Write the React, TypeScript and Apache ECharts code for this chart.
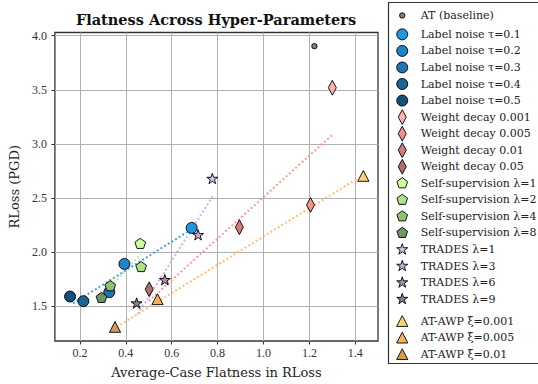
import React, { useEffect, useRef } from "react";
import * as echarts from "echarts";

// ---------- data ----------
const xTicks = [0.2, 0.4, 0.6, 0.8, 1.0, 1.2, 1.4];
const yTicks = [1.5, 2.0, 2.5, 3.0, 3.5, 4.0];

const baselineNames = ["AT (baseline)"];
const baselinePoints = [[1.222, 3.904]];

const labelNoiseNames = ["Label noise τ=0.1", "Label noise τ=0.2", "Label noise τ=0.3", "Label noise τ=0.4", "Label noise τ=0.5"];
const labelNoisePoints = [[0.687, 2.225], [0.394, 1.892], [0.328, 1.631], [0.215, 1.548], [0.157, 1.591]];

const weightDecayNames = ["Weight decay 0.001", "Weight decay 0.005", "Weight decay 0.01", "Weight decay 0.05"];
const weightDecayPoints = [[1.300, 3.520], [1.205, 2.437], [0.895, 2.231], [0.502, 1.658]];

const selfSupNames = ["Self-supervision λ=1", "Self-supervision λ=2", "Self-supervision λ=4", "Self-supervision λ=8"];
const selfSupPoints = [[0.463, 2.077], [0.467, 1.863], [0.332, 1.686], [0.294, 1.578]];

const tradesNames = ["TRADES λ=1", "TRADES λ=3", "TRADES λ=6", "TRADES λ=9"];
const tradesPoints = [[0.777, 2.676], [0.715, 2.156], [0.570, 1.741], [0.447, 1.525]];

const awpNames = ["AT-AWP ξ=0.001", "AT-AWP ξ=0.005", "AT-AWP ξ=0.01"];
const awpPoints = [[1.435, 2.705], [0.538, 1.566], [0.353, 1.310]];

// dotted trend lines (start, end)
const labelNoiseTrend = [[0.170, 1.527], [0.670, 2.190]];
const selfSupTrend = [[0.310, 1.630], [0.466, 1.985]];
const tradesTrend = [[0.452, 1.430], [0.779, 2.516]];
const weightDecayTrend = [[0.500, 1.550], [1.298, 3.081]];
const awpTrend = [[0.376, 1.330], [1.413, 2.685]];

// ---------- styles ----------
const baselineColors = ["#808080"];
const labelNoiseColors = ["#2196e0", "#1f84c8", "#1d74ae", "#1a6494", "#165078"];
const weightDecayColors = ["#ffb0b0", "#f09090", "#d47c7c", "#b46c6c"];
const selfSupColors = ["#ccff99", "#b0e08c", "#90bf72", "#6e9660"];
const tradesColors = ["#dcc4ec", "#c4acd8", "#a690b0", "#8c7c9c"];
const awpColors = ["#ffd27a", "#f7b25e", "#d69a52"];

const FRAME = 16;
const C = FRAME / 2;
const pad = `M0 0M${FRAME} ${FRAME}`;
const f = (n: number) => n.toFixed(2);
function circlePath(r: number) {
  return `path://${pad}M${f(C + r)} ${C}A${r} ${r} 0 1 1 ${f(C - r)} ${C}A${r} ${r} 0 1 1 ${f(C + r)} ${C}Z`;
}
function polyPath(pts: number[][]) {
  return `path://${pad}M` + pts.map((p) => `${f(p[0])} ${f(p[1])}`).join("L") + "Z";
}
function regularPoly(n: number, R: number) {
  const pts: number[][] = [];
  for (let k = 0; k < n; k++) {
    const a = (-90 + (360 / n) * k) * (Math.PI / 180);
    pts.push([C + R * Math.cos(a), C + R * Math.sin(a)]);
  }
  return polyPath(pts);
}
function starPath(R: number) {
  const r = R * 0.382;
  const pts: number[][] = [];
  for (let k = 0; k < 10; k++) {
    const a = (-90 + 36 * k) * (Math.PI / 180);
    const rr = k % 2 === 0 ? R : r;
    pts.push([C + rr * Math.cos(a), C + rr * Math.sin(a)]);
  }
  return polyPath(pts);
}
const SYM_BASE = circlePath(2.7);
const SYM_CIRCLE = circlePath(5.5);
const SYM_DIAMOND = polyPath([[8, 0.6], [12, 8], [8, 15.4], [4, 8]]);
const SYM_PENT = regularPoly(5, 5.6);
const SYM_STAR = starPath(5.8);
const SYM_TRI = polyPath([[8, 2.6], [13.6, 13.4], [2.4, 13.4]]);

const SERIF = "DejaVu Serif";
const TICKFONT = "Liberation Serif";

function scatterGroup(names: string[], pts: number[][], colors: string[], symbol: string) {
  return names.map((name, i) => ({
    type: "scatter",
    name,
    data: [pts[i]],
    symbol,
    symbolSize: FRAME,
    z: 3,
    itemStyle: { color: colors[i], borderColor: "#000", borderWidth: 0.9, opacity: 1 },
  }));
}
function trend(pts: number[][], color: string) {
  return {
    type: "line",
    data: pts,
    showSymbol: false,
    symbol: "none",
    silent: true,
    z: 2,
    lineStyle: { color, width: 2, type: [2, 2.3], cap: "butt", opacity: 0.9 },
  };
}

export default function App() {
  const ref = useRef<HTMLDivElement>(null);
  useEffect(() => {
    if (!ref.current) return;
    const chart = echarts.init(ref.current, undefined, { renderer: "svg" });
    const legendCommon = {
      orient: "vertical",
      left: 393.8,
      itemWidth: 27,
      itemHeight: FRAME,
      padding: 0,
      selectedMode: false,
      textStyle: { fontFamily: SERIF, fontSize: 11, color: "#222" },
      itemStyle: { borderWidth: 0.9, borderColor: "#000" },
    };
    chart.setOption({
      animation: false,
      backgroundColor: "#fff",
      title: {
        text: "Flatness Across Hyper-Parameters",
        left: 216,
        top: 11.5,
        padding: 0,
        textAlign: "center",
        textStyle: { fontFamily: SERIF, fontWeight: "bold", fontSize: 14.5, color: "#111" },
      },
      grid: {
        left: 54,
        right: 160,
        top: 32.5,
        bottom: 36,
        show: true,
        borderColor: "#333",
        borderWidth: 1.3,
        backgroundColor: "transparent",
      },
      xAxis: {
        type: "value",
        min: 0.091,
        max: 1.499,
        name: "Average-Case Flatness in RLoss",
        nameLocation: "middle",
        nameGap: 25,
        nameTextStyle: { fontFamily: SERIF, fontSize: 13, color: "#222" },
        axisLine: { show: false },
        axisTick: { show: true, length: 3.5, lineStyle: { color: "#333" }, customValues: xTicks },
        axisLabel: {
          customValues: xTicks,
          formatter: (v: number) => v.toFixed(1),
          fontFamily: TICKFONT,
          fontSize: 12,
          color: "#333",
          margin: 6,
        },
        splitLine: { show: true, lineStyle: { color: "#b0b0b0", width: 1 } },
      },
      yAxis: {
        type: "value",
        min: 1.18,
        max: 4.03,
        name: "RLoss (PGD)",
        nameLocation: "middle",
        nameGap: 29,
        nameTextStyle: { fontFamily: SERIF, fontSize: 13, color: "#222" },
        axisLine: { show: false },
        axisTick: { show: true, length: 3.5, lineStyle: { color: "#333" }, customValues: yTicks },
        axisLabel: {
          customValues: yTicks,
          formatter: (v: number) => v.toFixed(1),
          fontFamily: TICKFONT,
          fontSize: 12,
          color: "#333",
          margin: 8,
        },
        splitLine: { show: true, lineStyle: { color: "#b0b0b0", width: 1 } },
      },
      legend: [
        { ...legendCommon, data: baselineNames, top: 7 },
        {
          ...legendCommon,
          data: [...labelNoiseNames, ...weightDecayNames, ...selfSupNames, ...tradesNames],
          top: 25.9,
          itemGap: -0.35,
        },
        { ...legendCommon, data: awpNames, top: 312.6, itemGap: -0.35 },
      ],
      graphic: [
        {
          type: "rect",
          shape: { x: 388.5, y: 2.5, width: 155, height: 361 },
          style: { fill: "none", stroke: "#333", lineWidth: 1.2 },
          silent: true,
        },
      ],
      series: [
        trend(labelNoiseTrend, "#2e98e0"),
        trend(selfSupTrend, "#b8e890"),
        trend(tradesTrend, "#c8a8e4"),
        trend(weightDecayTrend, "#ff8f8f"),
        trend(awpTrend, "#ffb766"),
        ...scatterGroup(baselineNames, baselinePoints, baselineColors, SYM_BASE),
        ...scatterGroup(labelNoiseNames, labelNoisePoints, labelNoiseColors, SYM_CIRCLE),
        ...scatterGroup(weightDecayNames, weightDecayPoints, weightDecayColors, SYM_DIAMOND),
        ...scatterGroup(selfSupNames, selfSupPoints, selfSupColors, SYM_PENT),
        ...scatterGroup(tradesNames, tradesPoints, tradesColors, SYM_STAR),
        ...scatterGroup(awpNames, awpPoints, awpColors, SYM_TRI),
      ],
    });
    return () => chart.dispose();
  }, []);
  return <div ref={ref} style={{ width: 538, height: 384, position: "absolute", left: 0, top: 0 }} />;
}
